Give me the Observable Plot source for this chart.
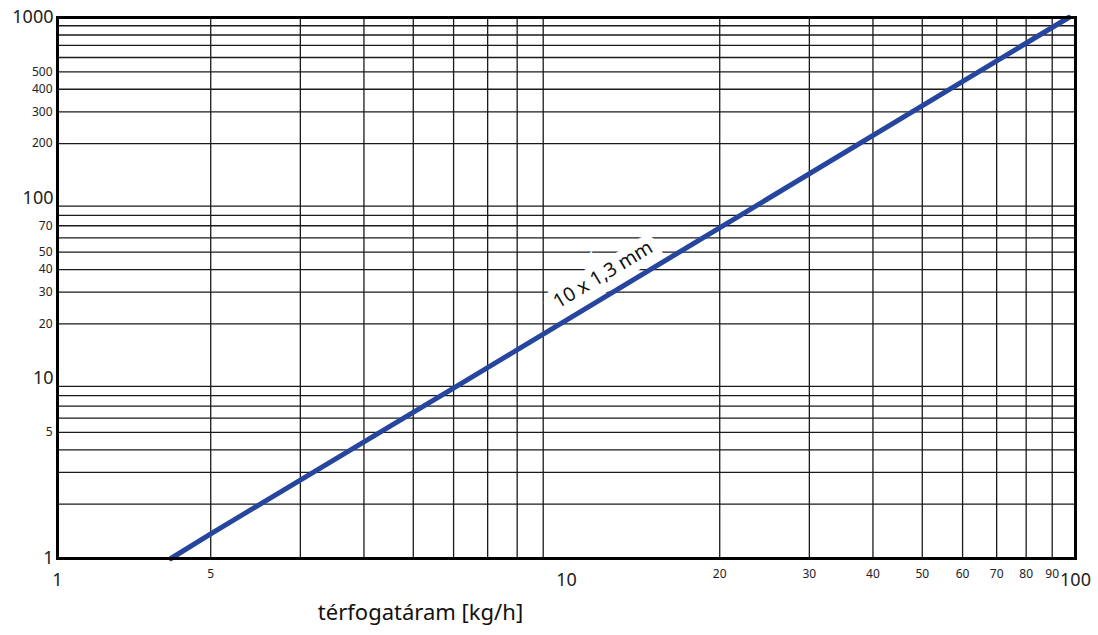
<!DOCTYPE html>
<html>
<head>
<meta charset="utf-8">
<script src="https://cdn.jsdelivr.net/npm/d3@7"></script>
<script src="https://cdn.jsdelivr.net/npm/@observablehq/plot@0.6"></script>
<style>
  html, body { margin: 0; padding: 0; background: #fff; }
  svg { display: block; }
</style>
</head>
<body>
<div id="chart"></div>
<script>
// Series: straight line on log-log axes (flow vs. value)
const seriesName = "10 x 1,3 mm";
const flowX = [1.67, 2, 6, 10, 97];
const valueY = [1, 1.37, 8.8, 21, 1000];

// Gridlines
const gridX = [2, 3, 4, 5, 6, 7, 8, 9, 20, 30, 40, 50, 60, 70, 80, 90];
const gridY = [2, 3, 4, 5, 6, 7, 8, 9, 20, 30, 40, 50, 60, 70, 80, 90, 200, 300, 400, 500, 600, 700, 800, 900];

// Tick labels
const xBigTicks = [1, 10, 100];
const xSmallTicks = [2, 20, 30, 40, 50, 60, 70, 80, 90];
const xSmallLabels = ["5", "20", "30", "40", "50", "60", "70", "80", "90"];
const yBigTicks = [1, 10, 100, 1000];
const ySmallTicks = [5, 20, 30, 40, 50, 70, 200, 300, 400, 500];

const labelPos = {x: 11.8, y: 37.5};
const xTitle = "térfogatáram [kg/h]";

const data = flowX.map((x, i) => ({x, y: valueY[i]}));
const font = "'Noto Sans', 'DejaVu Sans', sans-serif";

const chart = Plot.plot({
  width: 1098,
  height: 635,
  marginLeft: 57,
  marginRight: 23,
  marginTop: 17,
  marginBottom: 77,
  style: {fontFamily: font, background: "#fff"},
  x: {type: "log", domain: [1, 100], axis: null},
  y: {type: "log", domain: [1, 1000], axis: null},
  marks: [
    Plot.ruleX(gridX, {stroke: "#1a1a1a", strokeWidth: 1.3}),
    Plot.ruleY(gridY, {stroke: "#1a1a1a", strokeWidth: 1.3}),
    Plot.line(data, {x: "x", y: "y", stroke: "#26459e", strokeWidth: 5}),
    Plot.text([seriesName], {
      x: () => labelPos.x, y: () => labelPos.y,
      text: d => d, rotate: -31, fontSize: 19.5, fill: "#111",
      stroke: "white", strokeWidth: 16, strokeLinejoin: "miter", textAnchor: "middle"
    }),
    Plot.frame({stroke: "#000", strokeWidth: 3}),
    // y tick labels
    Plot.text(yBigTicks, {y: d => d, frameAnchor: "left", dx: -4, textAnchor: "end",
      text: d => String(d), fontSize: 18, fill: "#222"}),
    Plot.text(ySmallTicks, {y: d => d, frameAnchor: "left", dx: -5, textAnchor: "end",
      text: d => String(d), fontSize: 12, fill: "#222"}),
    // x tick labels
    Plot.text(xBigTicks, {x: d => d, frameAnchor: "bottom", dy: 27,
      text: d => String(d), fontSize: 18, fill: "#222"}),
    Plot.text(xSmallTicks, {x: d => d, frameAnchor: "bottom", dy: 19,
      text: (d, i) => xSmallLabels[i], fontSize: 12, fill: "#222"}),
    Plot.text([xTitle], {
      frameAnchor: "bottom-left", dx: 363, dy: 61, text: d => d,
      textAnchor: "middle", fontSize: 22, fill: "#111"
    })
  ]
});
document.getElementById("chart").appendChild(chart);
</script>
</body>
</html>
